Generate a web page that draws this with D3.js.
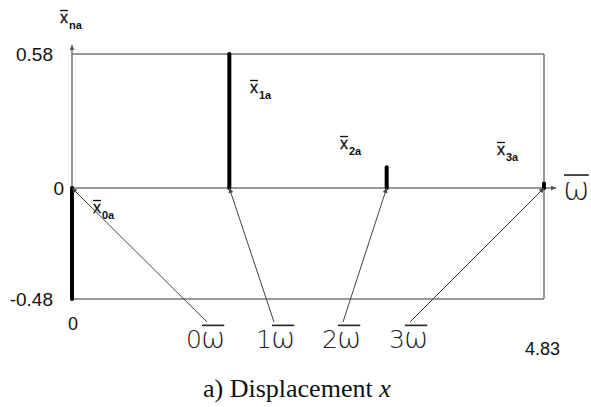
<!DOCTYPE html>
<html>
<head>
<meta charset="utf-8">
<script src="https://cdn.jsdelivr.net/npm/d3@7"></script>
<style>
  html, body { margin: 0; padding: 0; background: #fff; }
  svg { display: block; }
</style>
</head>
<body>
<svg id="chart" width="591" height="407"></svg>
<script>
// Harmonic index, frequency (multiples of the base frequency) and amplitude
const harmonics = [0, 1, 2, 3];
const frequencies = [0, 1.61, 3.22, 4.83];
const amplitudes = [-0.48, 0.58, 0.09, 0.02];
const yTicks = [0.58, 0, -0.48];
const xTicks = [0, 4.83];

const svg = d3.select("#chart");
const x = d3.scaleLinear().domain([0, 4.83]).range([72, 544]);
const y = d3.scaleLinear().domain([-0.48, 0.58]).range([299, 54]);

const defs = svg.append("defs");
defs.append("marker").attr("id", "arr").attr("viewBox", "0 0 10 10")
  .attr("refX", 10).attr("refY", 5).attr("markerWidth", 9).attr("markerHeight", 5)
  .attr("markerUnits", "userSpaceOnUse").attr("orient", "auto")
  .append("path").attr("d", "M0,0 L10,5 L0,10 Z").attr("fill", "#444");
defs.append("marker").attr("id", "axarr").attr("viewBox", "0 0 10 10")
  .attr("refX", 10).attr("refY", 5).attr("markerWidth", 8).attr("markerHeight", 5)
  .attr("markerUnits", "userSpaceOnUse").attr("orient", "auto")
  .append("path").attr("d", "M0,0 L10,5 L0,10 Z").attr("fill", "#555");

const grey = "#777";
// frame lines at the extreme values
svg.append("line").attr("x1", x(0)).attr("x2", x(4.83)).attr("y1", y(0.58)).attr("y2", y(0.58))
  .attr("stroke", grey).attr("stroke-width", 1.5);
svg.append("line").attr("x1", x(0)).attr("x2", x(4.83)).attr("y1", y(-0.48)).attr("y2", y(-0.48))
  .attr("stroke", grey).attr("stroke-width", 1.5);
svg.append("line").attr("x1", x(4.83)).attr("x2", x(4.83)).attr("y1", y(0.58)).attr("y2", y(-0.48))
  .attr("stroke", grey).attr("stroke-width", 1.5);
// axes with arrows
svg.append("line").attr("x1", x(0)).attr("x2", x(0)).attr("y1", y(-0.48)).attr("y2", y(0.58) - 9)
  .attr("stroke", grey).attr("stroke-width", 1.5).attr("marker-end", "url(#axarr)");
svg.append("line").attr("x1", x(0)).attr("x2", x(4.83) + 12).attr("y1", y(0)).attr("y2", y(0))
  .attr("stroke", grey).attr("stroke-width", 1.5).attr("marker-end", "url(#axarr)");

// spectral lines
svg.selectAll("line.spec").data(harmonics).join("line").attr("class", "spec")
  .attr("x1", i => x(frequencies[i])).attr("x2", i => x(frequencies[i]))
  .attr("y1", y(0)).attr("y2", i => y(amplitudes[i]))
  .attr("stroke", "#000").attr("stroke-width", 4).attr("stroke-linecap", "round");

const sans = "Liberation Sans, Arial, sans-serif";
// y tick labels
svg.selectAll("text.yt").data(yTicks).join("text").attr("class", "yt")
  .attr("x", d => d === 0 ? 64 : 53).attr("y", d => y(d) + 7)
  .attr("text-anchor", "end").attr("font-family", sans)
  .attr("font-size", 19).attr("fill", "#111").text(d => d === 0 ? "0" : d.toFixed(2));
// x tick labels
svg.selectAll("text.xt").data(xTicks).join("text").attr("class", "xt")
  .attr("x", d => d === 0 ? x(d) + 1 : x(d) - 19).attr("y", d => d === 0 ? 330 : 355)
  .attr("text-anchor", d => d === 0 ? "middle" : "start")
  .attr("font-family", sans)
  .attr("font-size", 18).attr("fill", "#111").text(d => d === 0 ? "0" : d.toFixed(2));

// amplitude symbols x̄ with subscript
function xbar(g, px, py, sub) {
  g.append("text").attr("x", px).attr("y", py)
    .attr("font-family", sans).attr("font-size", 16).attr("fill", "#111")
    .attr("stroke", "#111").attr("stroke-width", 0.3).text("x");
  g.append("text").attr("x", px + 9).attr("y", py + 6)
    .attr("font-family", sans).attr("font-size", 11).attr("font-weight", "bold")
    .attr("fill", "#111").text(sub);
  g.append("line").attr("x1", px).attr("x2", px + 8)
    .attr("y1", py - 12.5).attr("y2", py - 12.5)
    .attr("stroke", "#111").attr("stroke-width", 1.3);
}
xbar(svg, 60, 23, "na");
const symPos = [[93, 213], [250, 93], [340, 149], [497, 155]];
harmonics.forEach(i => xbar(svg, symPos[i][0], symPos[i][1], i + "a"));

// ω̄ symbol: omega with a bar above it
function omegaBar(g, px, py, size) {
  const t = g.append("text").attr("x", px).attr("y", py)
    .attr("font-family", "DejaVu Sans, sans-serif").attr("font-weight", 200)
    .attr("font-size", size).attr("fill", "#222").text("ω");
  const w = t.node().getComputedTextLength();
  g.append("line").attr("x1", px + 1).attr("x2", px + w - 1)
    .attr("y1", py - size * 0.78).attr("y2", py - size * 0.78)
    .attr("stroke", "#222").attr("stroke-width", 1.6);
  return w;
}
omegaBar(svg, 563, 200, 32);

// harmonic annotations with arrows to the axis
const labelX = [186, 256, 322, 389];
const lineStart = [207, 274, 343, 410];
harmonics.forEach(i => {
  const g = svg.append("g");
  const t = g.append("text").attr("x", labelX[i]).attr("y", 348)
    .attr("font-family", "DejaVu Sans, sans-serif").attr("font-weight", 200)
    .attr("font-size", 25).attr("fill", "#222").text(String(i));
  const w = t.node().getComputedTextLength();
  omegaBar(g, labelX[i] + w - 1, 348, 29);
  svg.append("line").attr("x1", lineStart[i]).attr("y1", 322)
    .attr("x2", x(frequencies[i])).attr("y2", y(0))
    .attr("stroke", "#444").attr("stroke-width", 1).attr("marker-end", "url(#arr)");
});

// caption
const cap = svg.append("text").attr("x", 203).attr("y", 397)
  .attr("font-family", "Liberation Serif, Times New Roman, serif")
  .attr("font-size", 26).attr("fill", "#111");
cap.append("tspan").text("a) Displacement ");
cap.append("tspan").attr("font-style", "italic").text("x");
</script>
</body>
</html>
